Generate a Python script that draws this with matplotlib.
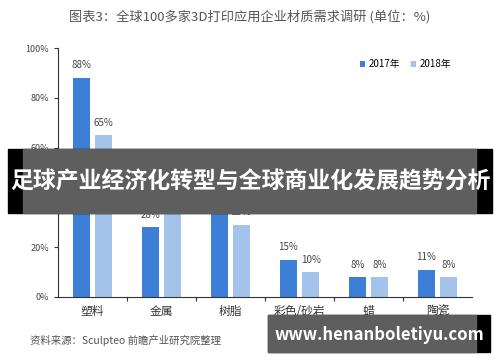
import matplotlib.pyplot as plt
import numpy as np
from matplotlib.patches import Rectangle

plt.rcParams['font.family'] = ['Noto Sans CJK SC', 'DejaVu Sans']

categories = ['塑料', '金属', '树脂', '彩色/砂岩', '蜡', '陶瓷']
vals_2017 = [88, 28, 35, 15, 8, 11]
vals_2018 = [65, 36, 29, 10, 8, 8]
series_names = ['2017年', '2018年']
yticks = [0, 20, 40, 60, 80, 100]

c17 = '#3d7fd6'
c18 = '#a4c3ea'

fig = plt.figure(figsize=(5, 3.62), dpi=100)
ax = fig.add_axes([0.116, 0.1796, 0.828, 0.6878])

x = np.arange(len(categories))
w = 0.235
off = 0.16
b1 = ax.bar(x - off, vals_2017, w, color=c17, label=series_names[0])
b2 = ax.bar(x + off, vals_2018, w, color=c18, label=series_names[1])
for bars, vals in ((b1, vals_2017), (b2, vals_2018)):
    for r, v in zip(bars, vals):
        ax.text(r.get_x() + r.get_width() / 2, v + 3, f'{v}%', ha='center',
                va='bottom', fontsize=7, color='#444444')

ax.set_xlim(-0.5, len(categories) - 0.5)
ax.set_ylim(0, 100)
ax.set_yticks(yticks)
ax.set_yticklabels([f'{t}%' for t in yticks], fontsize=6.5, color='#444444')
ax.set_xticks(x)
ax.set_xticklabels(categories, fontsize=8.5, color='#333333')
ax.tick_params(axis='x', length=0, pad=6)
ax.tick_params(axis='y', length=3, width=0.8, color='#333333')
ax.set_xticks(np.arange(0.5, len(categories) - 0.5), minor=True)
ax.tick_params(axis='x', which='minor', length=3, width=0.8, color='#333333')
for s in ['top', 'right']:
    ax.spines[s].set_visible(False)
ax.spines['left'].set_color('#333333')
ax.spines['bottom'].set_color('#333333')
ax.spines['left'].set_linewidth(0.8)
ax.spines['bottom'].set_linewidth(0.8)

ax.legend(loc='upper right', bbox_to_anchor=(0.97, 0.99), ncol=2, frameon=False,
          fontsize=7, handlelength=0.5, handleheight=0.5, handletextpad=0.3,
          columnspacing=1.2)

fig.text(0.5, 0.953, '图表3：全球100多家3D打印应用企业材质需求调研 (单位：%)',
         ha='center', va='center', fontsize=9.5, color='#555555')
fig.text(0.06, 0.06, '资料来源：Sculpteo 前瞻产业研究院整理', ha='left', va='center',
         fontsize=7.5, color='#555555', style='italic')

# overlay banners
fig.patches.append(Rectangle((8 / 500, 1 - 213 / 362), 484 / 500, 64 / 362,
                             transform=fig.transFigure, color='black', zorder=5))
fig.patches.append(Rectangle((23 / 500, 1 - 213 / 362), 453 / 500, 64 / 362,
                             transform=fig.transFigure, color='#5e5e5e', zorder=6))
fig.text(0.5, 1 - 182 / 362, '足球产业经济化转型与全球商业化发展趋势分析', ha='center',
         va='center', fontsize=16.5, fontweight='bold', color='white', zorder=7)

fig.patches.append(Rectangle((268 / 500, 1 - 352 / 362), 222 / 500, 37 / 362,
                             transform=fig.transFigure, color='black', zorder=5))
fig.patches.append(Rectangle((268 / 500, 1 - 352 / 362), 208 / 500, 37 / 362,
                             transform=fig.transFigure, color='#5e5e5e', zorder=6))
fig.text(379 / 500, 1 - 335 / 362, 'www.henanboletiyu.com', ha='center',
         va='center', fontsize=12, fontweight='bold', color='white', zorder=7)

fig.savefig('out.png', dpi=100)
